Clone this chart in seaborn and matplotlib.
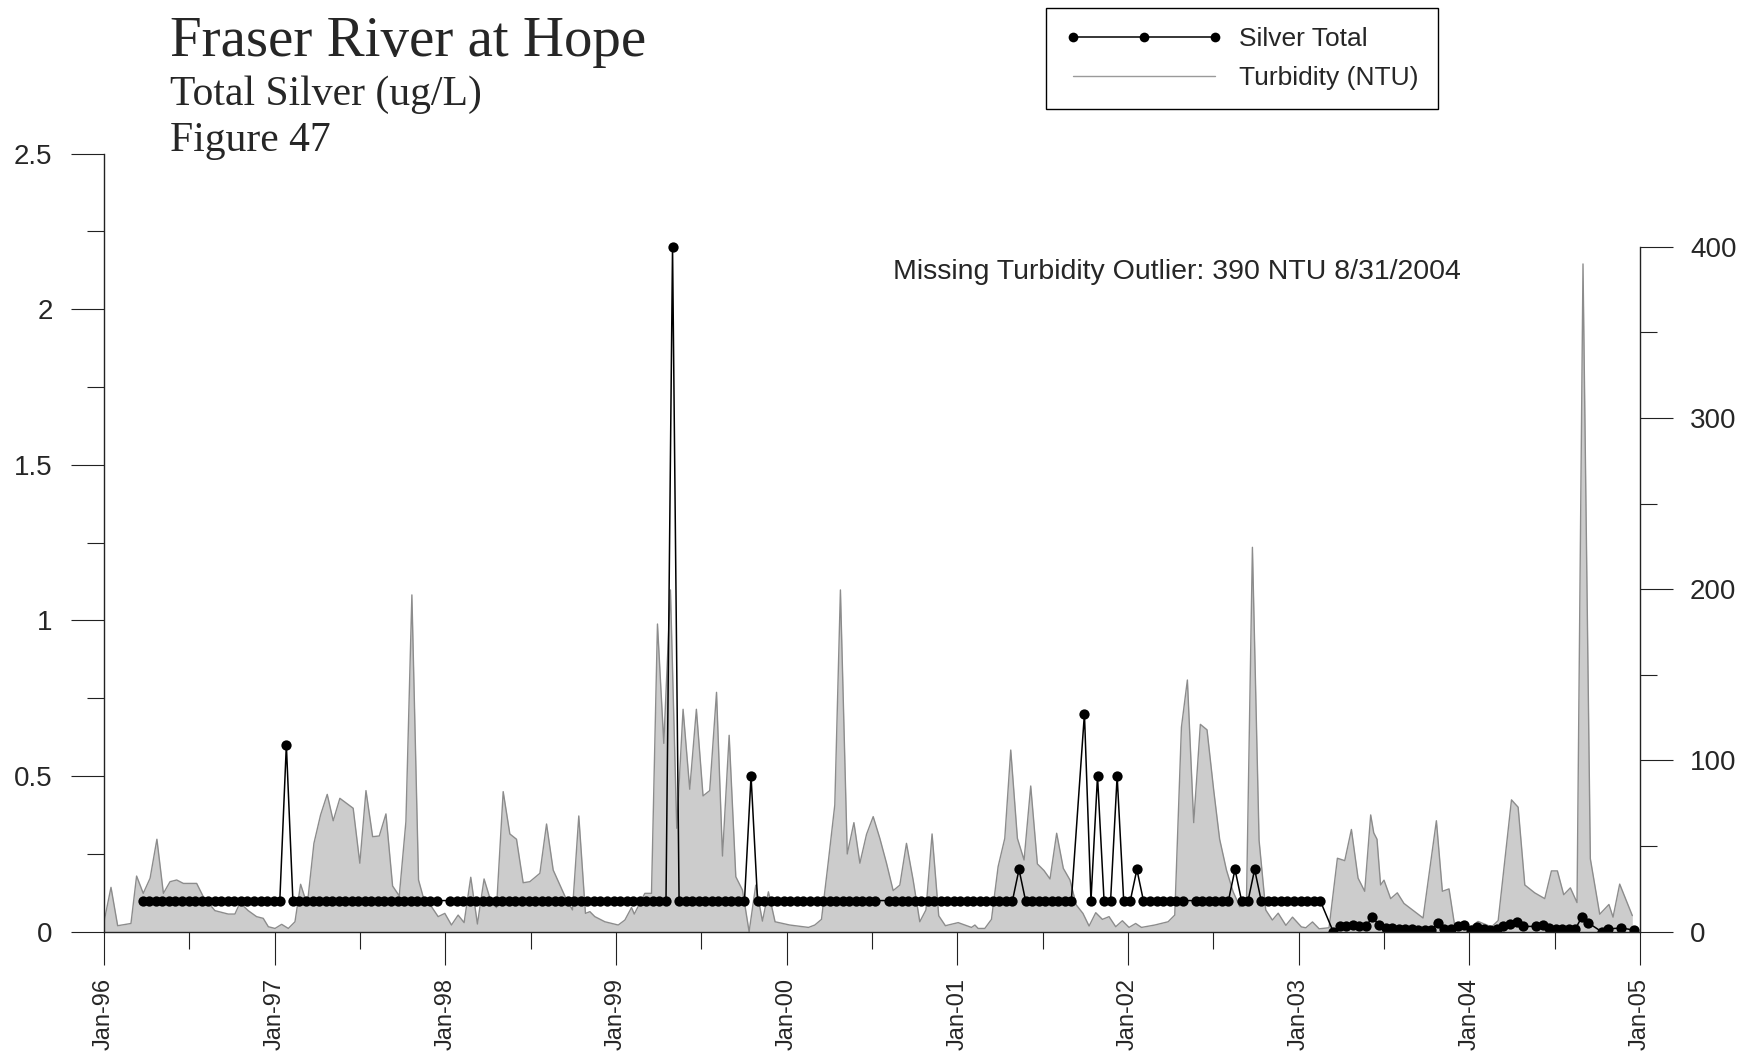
import numpy as np
import pandas as pd
import seaborn as sns
import matplotlib.pyplot as plt
from matplotlib.lines import Line2D
from matplotlib.ticker import FixedLocator, FormatStrFormatter

# %%
# turbidity (NTU), sample dates as decimal years
turb_year = [
    1996.000, 1996.041, 1996.080, 1996.158, 1996.191, 1996.230, 1996.270, 1996.310, 1996.348, 1996.387,
    1996.426, 1996.465, 1996.543, 1996.582, 1996.650, 1996.728, 1996.767, 1996.797, 1996.845, 1996.894,
    1996.933, 1996.963, 1997.002, 1997.041, 1997.080, 1997.119, 1997.152, 1997.191, 1997.230, 1997.269,
    1997.308, 1997.343, 1997.382, 1997.460, 1997.499, 1997.535, 1997.574, 1997.613, 1997.652, 1997.691,
    1997.730, 1997.769, 1997.804, 1997.843, 1997.870, 1997.919, 1997.958, 1997.997, 1998.036, 1998.075,
    1998.110, 1998.149, 1998.188, 1998.227, 1998.266, 1998.300, 1998.339, 1998.378, 1998.417, 1998.456,
    1998.495, 1998.554, 1998.593, 1998.632, 1998.700, 1998.745, 1998.782, 1998.821, 1998.847, 1998.876,
    1998.935, 1999.013, 1999.052, 1999.091, 1999.107, 1999.169, 1999.208, 1999.243, 1999.280, 1999.319,
    1999.356, 1999.393, 1999.432, 1999.471, 1999.510, 1999.549, 1999.589, 1999.624, 1999.663, 1999.702,
    1999.741, 1999.780, 1999.819, 1999.858, 1999.893, 1999.932, 2000.018, 2000.128, 2000.165, 2000.204,
    2000.243, 2000.282, 2000.315, 2000.355, 2000.394, 2000.429, 2000.468, 2000.507, 2000.546, 2000.585,
    2000.624, 2000.663, 2000.702, 2000.741, 2000.780, 2000.816, 2000.852, 2000.891, 2000.930, 2001.005,
    2001.083, 2001.103, 2001.122, 2001.161, 2001.200, 2001.239, 2001.278, 2001.313, 2001.352, 2001.391,
    2001.430, 2001.469, 2001.508, 2001.543, 2001.582, 2001.621, 2001.660, 2001.697, 2001.736, 2001.772,
    2001.811, 2001.850, 2001.889, 2001.928, 2001.967, 2002.006, 2002.045, 2002.079, 2002.157, 2002.235,
    2002.274, 2002.313, 2002.348, 2002.385, 2002.424, 2002.463, 2002.502, 2002.537, 2002.577, 2002.616,
    2002.655, 2002.694, 2002.729, 2002.768, 2002.807, 2002.846, 2002.880, 2002.925, 2002.964, 2003.016,
    2003.042, 2003.081, 2003.120, 2003.178, 2003.227, 2003.270, 2003.309, 2003.348, 2003.387, 2003.422,
    2003.440, 2003.459, 2003.480, 2003.500, 2003.539, 2003.578, 2003.617, 2003.729, 2003.807, 2003.842,
    2003.881, 2003.916, 2004.002, 2004.051, 2004.130, 2004.169, 2004.208, 2004.247, 2004.286, 2004.325,
    2004.383, 2004.442, 2004.481, 2004.516, 2004.553, 2004.592, 2004.631, 2004.666, 2004.709, 2004.764,
    2004.818, 2004.842, 2004.881, 2004.955,
]
turb_ntu = [
    5.8, 25.9, 3.5, 4.8, 32.5, 22.4, 31.2, 54.0, 22.4, 29.2,
    30.2, 28.2, 28.2, 20.4, 12.3, 10.3, 10.3, 16.9, 12.3, 8.8,
    7.8, 2.9, 1.9, 4.3, 1.9, 5.8, 27.7, 15.6, 51.6, 68.2,
    80.2, 64.8, 77.9, 72.1, 40.0, 82.4, 55.5, 55.9, 68.8, 26.7,
    20.9, 64.3, 196.7, 30.2, 20.4, 14.6, 8.8, 10.7, 3.9, 9.7,
    5.3, 31.8, 4.5, 30.8, 18.0, 14.1, 81.8, 57.1, 54.0, 28.6,
    29.2, 34.1, 62.9, 36.0, 20.9, 12.7, 67.6, 10.7, 11.7, 8.8,
    5.8, 3.9, 6.8, 14.1, 10.3, 22.4, 22.4, 179.7, 110.0, 199.6,
    60.4, 129.9, 83.2, 129.9, 79.3, 82.4, 139.8, 44.2, 114.7, 32.1,
    24.3, 0.0, 27.2, 6.2, 23.3, 5.8, 3.9, 2.5, 3.9, 7.2,
    40.0, 74.0, 199.6, 45.4, 63.7, 40.0, 56.9, 67.2, 54.5, 40.0,
    24.0, 27.2, 51.6, 30.2, 5.8, 12.7, 57.1, 9.3, 3.5, 5.3,
    2.5, 3.9, 1.9, 1.9, 7.2, 38.0, 54.5, 106.1, 54.5, 41.9,
    85.1, 39.6, 35.7, 30.8, 57.5, 37.0, 30.2, 15.6, 10.7, 3.3,
    11.1, 7.2, 8.8, 2.9, 6.4, 2.5, 4.8, 2.5, 3.9, 5.8,
    9.7, 119.4, 147.0, 63.7, 121.1, 117.9, 82.8, 54.0, 36.0, 23.3,
    14.6, 16.6, 224.5, 53.4, 12.7, 6.8, 10.8, 3.7, 8.5, 2.8,
    2.3, 5.7, 1.7, 2.3, 42.9, 41.5, 59.7, 31.3, 23.6, 68.2,
    57.7, 54.0, 27.3, 30.1, 19.3, 22.7, 16.5, 8.0, 64.8, 23.6,
    25.0, 2.3, 2.3, 6.0, 2.8, 6.5, 42.0, 77.0, 72.7, 27.3,
    22.7, 19.3, 35.5, 35.5, 21.6, 25.6, 17.0, 390.0, 42.6, 10.2,
    15.9, 8.5, 27.8, 9.4,
]

# total silver (ug/L), biweekly samples, None = no sample
silver_dates = pd.date_range("1996-03-24", periods=229, freq="14D")
silver_ug = [
    0.1, 0.1, 0.1, 0.1, 0.1, 0.1, 0.1, 0.1, 0.1, 0.1, 0.1, 0.1, 0.1,
    0.1, 0.1, 0.1, 0.1, 0.1, 0.1, 0.1, 0.1, 0.1, 0.6, 0.1, 0.1, 0.1,
    0.1, 0.1, 0.1, 0.1, 0.1, 0.1, 0.1, 0.1, 0.1, 0.1, 0.1, 0.1, 0.1,
    0.1, 0.1, 0.1, 0.1, 0.1, 0.1, 0.1, None, 0.1, 0.1, 0.1, 0.1, 0.1,
    0.1, 0.1, 0.1, 0.1, 0.1, 0.1, 0.1, 0.1, 0.1, 0.1, 0.1, 0.1, 0.1,
    0.1, 0.1, 0.1, 0.1, 0.1, 0.1, 0.1, 0.1, 0.1, 0.1, 0.1, 0.1, 0.1,
    0.1, 0.1, 0.1, 2.2, 0.1, 0.1, 0.1, 0.1, 0.1, 0.1, 0.1, 0.1, 0.1,
    0.1, 0.1, 0.5, 0.1, 0.1, 0.1, 0.1, 0.1, 0.1, 0.1, 0.1, 0.1, 0.1,
    0.1, 0.1, 0.1, 0.1, 0.1, 0.1, 0.1, 0.1, 0.1, None, 0.1, 0.1, 0.1,
    0.1, 0.1, 0.1, 0.1, 0.1, 0.1, 0.1, 0.1, 0.1, 0.1, 0.1, 0.1, 0.1,
    0.1, 0.1, 0.1, 0.1, 0.2, 0.1, 0.1, 0.1, 0.1, 0.1, 0.1, 0.1, 0.1,
    None, 0.7, 0.1, 0.5, 0.1, 0.1, 0.5, 0.1, 0.1, 0.2, 0.1, 0.1, 0.1,
    0.1, 0.1, 0.1, 0.1, None, 0.1, 0.1, 0.1, 0.1, 0.1, 0.1, 0.2, 0.1,
    0.1, 0.2, 0.1, 0.1, 0.1, 0.1, 0.1, 0.1, 0.1, 0.1, 0.1, 0.1, None,
    0.0, 0.017, 0.017, 0.023, 0.017, 0.017, 0.048, 0.02, 0.012, 0.012, 0.008, 0.008, 0.008,
    0.005, 0.005, 0.005, 0.028, 0.009, 0.008, 0.017, 0.023, 0.005, 0.016, 0.009, 0.005, 0.009,
    0.017, 0.025, 0.031, 0.017, None, 0.017, 0.023, 0.012, 0.009, 0.009, 0.009, 0.009, 0.048,
    0.028, None, 0.0, 0.009, None, 0.012, None, 0.005,
]

year_ticks = list(range(1996, 2006))
year_labels = ["Jan-96", "Jan-97", "Jan-98", "Jan-99", "Jan-00",
               "Jan-01", "Jan-02", "Jan-03", "Jan-04", "Jan-05"]

# %%
turb = pd.DataFrame({"year": turb_year, "ntu": turb_ntu})
silver = pd.DataFrame({"date": silver_dates, "silver": silver_ug}).dropna()
silver["year"] = silver["date"].dt.year + (silver["date"].dt.dayofyear - 1) / 365.25

sns.set_style("ticks")
plt.rcParams["font.family"] = ["Liberation Sans", "DejaVu Sans"]

W, H = 1743, 1056
fig = plt.figure(figsize=(W / 100, H / 100), dpi=100)
ax = fig.add_axes([104 / W, 1 - 931.7 / H, (1640 - 104) / W, (931.7 - 153.5) / H])
ax2 = ax.twinx()
ax.set_zorder(ax2.get_zorder() + 1)
ax.patch.set_visible(False)

# turbidity as grey area on right axis
ax2.fill_between(turb["year"], 0, turb["ntu"], color="#cccccc", lw=0)
sns.lineplot(data=turb, x="year", y="ntu", ax=ax2, color="#8c8c8c", lw=1.0,
             sort=False, estimator=None)

# silver on left axis
sns.lineplot(data=silver, x="year", y="silver", ax=ax, color="black", lw=1.1,
             marker="o", markersize=7.4, markeredgewidth=0, sort=False, estimator=None)

ax.set_xlim(1996, 2005)
ax.set_ylim(0, 2.5)
ax2.set_ylim(0, 454.5)
for a in (ax, ax2):
    a.set_xlabel("")
    a.set_ylabel("")

ax.spines["top"].set_visible(False)
ax.spines["right"].set_visible(False)
for s in ("top", "left", "bottom"):
    ax2.spines[s].set_visible(False)
ax2.spines["right"].set_bounds(0, 400)
for s in (ax.spines["left"], ax.spines["bottom"], ax2.spines["right"]):
    s.set_linewidth(1.0)
    s.set_color("#222222")

ax.set_xticks(year_ticks)
ax.set_xticklabels(year_labels, rotation=90)
ax.xaxis.set_minor_locator(FixedLocator([y + 0.5 for y in year_ticks[:-1]]))
ax.set_yticks([0, 0.5, 1, 1.5, 2, 2.5])
ax.yaxis.set_major_formatter(FormatStrFormatter("%g"))
ax.yaxis.set_minor_locator(FixedLocator([0.25, 0.75, 1.25, 1.75, 2.25]))
ax2.set_yticks([0, 100, 200, 300, 400])
ax2.yaxis.set_minor_locator(FixedLocator([50, 150, 250, 350]))

ax.tick_params(axis="both", which="major", direction="out", length=24, width=0.8, color="#222222")
ax.tick_params(axis="both", which="minor", direction="out", length=12.5, width=0.8, color="#222222")
ax.tick_params(axis="y", labelsize=20, pad=13)
ax.tick_params(axis="x", labelsize=17, pad=9)
ax2.tick_params(axis="y", which="major", direction="out", length=24, width=0.8, color="#222222",
                labelsize=20, pad=12)
ax2.tick_params(axis="y", which="minor", direction="out", length=12.5, width=0.8, color="#222222")

ax.text(0.5134, 0.8477, "Missing Turbidity Outlier: 390 NTU 8/31/2004",
        transform=ax.transAxes, fontsize=20.5, ha="left", va="center")

# titles
fig.text(170 / W, 1 - 56 / H, "Fraser River at Hope", family="Liberation Serif", fontsize=41, va="baseline")
fig.text(170 / W, 1 - 105 / H, "Total Silver (ug/L)", family="Liberation Serif", fontsize=30, va="baseline")
fig.text(170 / W, 1 - 151 / H, "Figure 47", family="Liberation Serif", fontsize=30, va="baseline")

handles = [
    Line2D([], [], color="black", lw=1.1, marker="o", markersize=7.0, markeredgewidth=0),
    Line2D([], [], color="#9a9a9a", lw=1.0),
]
leg = fig.legend(handles, ["Silver Total", "Turbidity (NTU)"], loc="upper left",
                 bbox_to_anchor=(1046 / W, 1 - 8 / H), frameon=True, fancybox=False,
                 framealpha=1, edgecolor="black", fontsize=19, handlelength=6.0,
                 numpoints=3, handletextpad=0.6, borderpad=0.72, labelspacing=0.57,
                 borderaxespad=0)
leg.get_frame().set_linewidth(1.0)
leg.get_texts()[0].set_fontweight("light")

fig.savefig("out.png", dpi=100)
